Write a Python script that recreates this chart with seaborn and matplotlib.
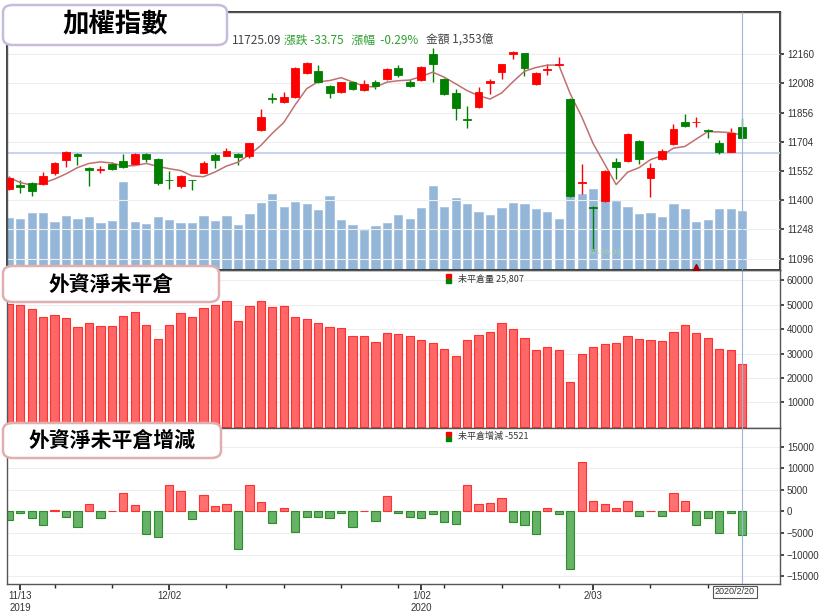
import numpy as np
import pandas as pd
import matplotlib
matplotlib.use("Agg")
import matplotlib.pyplot as plt
from matplotlib.patches import FancyBboxPatch
import seaborn as sns

sns.set_theme(style="white")
plt.rcParams['font.family'] = ['Noto Sans CJK TC', 'DejaVu Sans']

open_ = [11460,11479,11492,11485,11541,11610,11641,11570,11560,11587,11606,11589,11641,11615,11507,11474,11507,11544,11636,11632,
         11641,11630,11765,11930,11913,11936,12061,12075,11995,11965,12017,11974,12014,12031,12087,12014,
         12026,12160,12030,11957,11820,11887,12009,12068,12162,12165,12005,12076,12106,11929,11490,11365,11398,11598,11606,
         11709,11514,11615,11693,11809,11806,11766,11697,11653,11780]
close = [11518,11467,11450,11524,11593,11653,11630,11558,11565,11563,11575,11641,11615,11488,11503,11526,11503,11593,11610,11658,
         11627,11697,11835,11926,11938,12090,12116,12014,11957,12014,11978,12004,11995,12083,12052,11995,
         12096,12108,11953,11879,11818,11964,12021,12108,12174,12090,12061,12084,12110,11423,11494,11362,11554,11575,11745,
         11613,11570,11658,11770,11789,11808,11761,11650,11752,11725.09]
high = [11525,11505,11495,11549,11600,11658,11645,11575,11580,11600,11640,11645,11648,11618,11550,11530,11508,11603,11648,11670,
        11645,11700,11874,11958,11965,12095,12120,12104,12000,12018,12020,12025,12025,12088,12104,12030,
        12100,12191,12035,11978,11891,11990,12030,12110,12179,12168,12066,12108,12144,11932,11589,11368,11560,11618,11748,
        11712,11593,11665,11797,11849,11835,11769,11714,11775,11827]
low = [11455,11436,11422,11480,11532,11575,11584,11475,11540,11555,11570,11585,11598,11482,11460,11465,11455,11540,11570,11628,
       11585,11620,11760,11908,11908,11930,12055,12010,11931,11960,11975,11970,11978,12028,12040,11990,
       12020,12018,11950,11818,11775,11880,11953,12032,12134,12047,12000,12052,12099,11418,11433,11138.03,11393,11509,11600,
       11589,11419,11610,11690,11780,11783,11723,11641,11650,11718]
amount = [1210,1167,1320,1320,1108,1244,1184,1227,1083,1125,2039,1108,1066,1227,1150,1091,1091,1244,1125,1244,
          1049,1303,1548,1751,1455,1574,1514,1379,1709,1150,1049,914,1007,1091,1261,1184,
          1438,1946,1455,1667,1514,1337,1277,1438,1548,1531,1413,1337,1167,1844,1760,1861,1633,1590,1455,
          1294,1311,1227,1514,1413,1117,1159,1413,1413,1353]
oi = [50100,49800,48300,45000,45700,44600,40800,42600,41100,41400,45500,47000,41600,35800,41600,46400,44900,48600,49800,51700,
      43300,49300,51500,49000,49500,44800,44000,42300,40800,40400,37000,37000,34800,38400,38000,37000,
      35500,34500,32000,29000,35500,37500,39000,42500,40000,36500,31500,32500,31500,18500,30000,32500,34000,34500,37000,
      36000,35500,35000,39000,41500,38500,36500,32000,31500,25807]
oi_chg = [-2000,-300,-1500,-3100,400,-1200,-3600,1800,-1500,200,4300,1500,-5200,-5900,6000,4800,-1700,3700,1300,1600,
          -8600,6000,2200,-2600,700,-4700,-1200,-1400,-1600,-400,-3700,0,-2200,3600,-300,-1200,
          -1500,-700,-2400,-2800,6200,1800,2000,3000,-2500,-3100,-5200,900,-600,-13400,11500,2500,1600,700,2300,
          -1000,100,-1000,4300,2300,-3200,-1500,-5100,-300,-5521]
holidays = ['2020-01-01','2020-01-21','2020-01-22','2020-01-23','2020-01-24','2020-01-27','2020-01-28','2020-01-29']
price_ticks = [11096,11248,11400,11552,11704,11856,12008,12160]
x_labels = {1: '11/13\n2019', 14: '12/02', 36: '1/02\n2020', 51: '2/03'}

dates = [d for d in pd.bdate_range('2019-11-12', '2020-02-20') if d.strftime('%Y-%m-%d') not in holidays]
n = len(close)
x = np.arange(n)
o = np.array(open_); c = np.array(close); h = np.array(high); l = np.array(low)
ma = pd.Series(c).rolling(5, min_periods=1).mean()

RED = '#ff0000'; GREEN = '#008000'
NUMF = ['Liberation Sans', 'DejaVu Sans']
fig = plt.figure(figsize=(8.2, 6.11), dpi=100)
W = 773/820; L = 7/820
ax1 = fig.add_axes([L, 1-270/611, W, 258/611])
ax2 = fig.add_axes([L, 1-428/611, W, 158/611], sharex=ax1)
ax3 = fig.add_axes([L, 1-584/611, W, 156/611], sharex=ax1)
xlim = (-0.15, 67.3)

axv = ax1.twinx()
axv.bar(x, amount, width=0.72, color='#94b6d8', edgecolor='#a9c4e0', linewidth=0.6, zorder=1)
axv.set_ylim(0, 5950)
axv.set_yticks([]); axv.set_ylabel('')
axv.set_zorder(0)
ax1.set_zorder(1); ax1.patch.set_visible(False)

up = c >= o
cols = np.where(up, RED, GREEN)
ax1.vlines(x, l, h, colors=cols, linewidth=1)
bot = np.minimum(o, c); ht = np.maximum(np.abs(c - o), 2.5)
ax1.bar(x, ht, bottom=bot, width=0.68, color=cols, edgecolor=cols, linewidth=0.6, zorder=3)
sns.lineplot(x=x, y=ma, ax=ax1, color='#c07070', linewidth=1.1, zorder=2)
ax1.axhline(11645, color='#c8d4ee', linewidth=1.5, zorder=0)
ax1.set_ylim(11037, 12380)
ax1.set_yticks(price_ticks)
ax1.grid(axis='y', color='#eeeeee', linewidth=0.8)
ax1.text(52, 11120, '11138.03', color='#a8d0a8', fontsize=6, ha='center', family=NUMF)
ax1.plot([60], [11050], marker='^', color='#a00000', markersize=6, zorder=5)

ax2.bar(x, oi, width=0.72, color='#ff6666', edgecolor='#ff3030', linewidth=0.8)
ax2.set_ylim(-500, 64200)
ax2.set_yticks([10000, 20000, 30000, 40000, 50000, 60000])
ax2.grid(axis='y', color='#eeeeee', linewidth=0.8)

chg = np.array(oi_chg)
ccols = np.where(chg >= 0, '#ff7070', '#66b266')
ecols = np.where(chg >= 0, '#ff3030', '#2e8b2e')
ax3.bar(x, chg, width=0.72, color=ccols, edgecolor=ecols, linewidth=0.8)
ax3.set_ylim(-16800, 19300)
ax3.set_yticks([-15000, -10000, -5000, 0, 5000, 10000, 15000])
ax3.grid(axis='y', color='#eeeeee', linewidth=0.8)

for ax in (ax1, ax2, ax3):
    ax.set_xlim(*xlim)
    ax.set_ylabel(''); ax.set_xlabel('')
    ax.yaxis.tick_right()
    ax.tick_params(axis='y', labelsize=7, colors='#333333', length=3, pad=2, direction='out', right=True)
    for s in ax.spines.values():
        s.set_color('#555555'); s.set_linewidth(1)
    ax.axvline(n-1, color='#9db4dc', linewidth=0.8, zorder=4)
    for lab in ax.get_yticklabels():
        lab.set_family(NUMF)
plt.setp(ax1.get_xticklabels(), visible=False)
plt.setp(ax2.get_xticklabels(), visible=False)
ax1.tick_params(axis='x', length=0); ax2.tick_params(axis='x', length=0)
ax3.set_xticks(list(x_labels.keys()))
ax3.set_xticklabels(list(x_labels.values()), fontsize=7, color='#333333', ha='center', family=NUMF)
ax3.tick_params(axis='x', length=4, direction='out', bottom=True, pad=1)
mondays = [i for i, d in enumerate(dates) if d.weekday() == 0 and i not in x_labels]
ax3.set_xticks(mondays, minor=True)
ax3.tick_params(axis='x', which='minor', length=3, direction='out', bottom=True)
fig.text(735/820, 1-592/611, '2020/2/20', fontsize=6.5, ha='center', va='center', color='#333333',
         family=NUMF, bbox=dict(boxstyle='square,pad=0.2', fc='white', ec='#555555', lw=0.8))

fig.text(232/820, 1-40/611, '11725.09', fontsize=8.5, color='#444444', va='center')
fig.text(284/820, 1-40/611, '漲跌 -33.75   漲幅  -0.29%', fontsize=8.5, color='#2e9e2e', va='center')
fig.text(426/820, 1-40/611, '金額 1,353億', fontsize=8.5, color='#444444', va='center')

def legend_icon(xp, yp, text):
    fig.patches.append(plt.Rectangle((xp/820, 1-(yp+1)/611), 5/820, 4/611, transform=fig.transFigure, color=RED))
    fig.patches.append(plt.Rectangle((xp/820, 1-(yp+6)/611), 5/820, 4/611, transform=fig.transFigure, color=GREEN))
    fig.text((xp+12)/820, 1-(yp+1)/611, text, fontsize=6.5, color='#333333', va='center')
legend_icon(446, 277, '未平倉量 25,807')
legend_icon(446, 435, '未平倉增減 -5521')

def title_box(x0, y0, x1, y1, text, ec, fs):
    p = FancyBboxPatch((x0/820, 1-y1/611), (x1-x0)/820, (y1-y0)/611,
                       boxstyle='round,pad=0,rounding_size=0.012', transform=fig.transFigure,
                       fc='white', ec=ec, lw=1.8, zorder=10)
    fig.patches.append(p)
    fig.text((x0+x1)/2/820, 1-(y0+y1)/2/611, text, fontsize=fs, fontweight='bold', color='black',
             ha='center', va='center', zorder=11)
title_box(3, 5, 227, 45, '加權指數', '#c8bcdc', 19)
title_box(3, 266, 219, 302, '外資淨未平倉', '#e0b0b0', 15)
title_box(3, 423, 221, 458, '外資淨未平倉增減', '#e0b0b0', 15)

fig.savefig('out.png', dpi=100)
